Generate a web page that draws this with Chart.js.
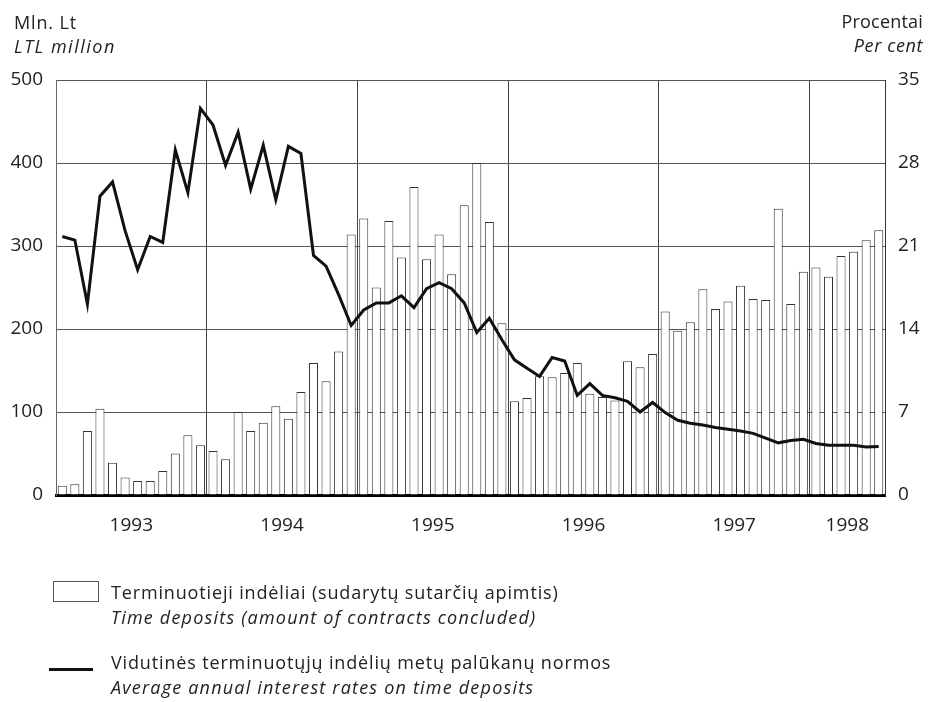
<!DOCTYPE html>
<html>
<head>
<meta charset="utf-8">
<script src="https://cdn.jsdelivr.net/npm/chart.js@4.4.1/dist/chart.umd.min.js"></script>
<style>
  body { margin: 0; background: #fff; font-family: 'Open Sans', sans-serif; color: #222; }
  #wrap { position: relative; width: 928px; height: 702px; }
  canvas { position: absolute; left: 0; top: 0; }
  .txt { position: absolute; white-space: nowrap; letter-spacing: 0.85px; }
  .it { font-style: italic; letter-spacing: 1.2px; }
</style>
</head>
<body>
<div id="wrap">
  <canvas id="myChart" width="928" height="702"></canvas>

  <div class="txt" style="left:14px; top:11px; font-size:18px; line-height:23.5px;">
    Mln. Lt<br><span class="it" style="letter-spacing:1.5px;">LTL million</span>
  </div>
  <div class="txt" style="right:5px; top:10px; font-size:18px; line-height:23.5px; text-align:right; letter-spacing:0.2px;">
    Procentai<br><span class="it" style="letter-spacing:0.6px;">Per cent</span>
  </div>

  <div style="position:absolute; left:53px; top:581px; width:44px; height:19px; border:1px solid #555;"></div>
  <div class="txt" style="left:111px; top:580px; font-size:18px; line-height:24.5px;">
    Terminuotieji indėliai (sudarytų sutarčių apimtis)<br><span class="it">Time deposits (amount of contracts concluded)</span>
  </div>

  <div style="position:absolute; left:49px; top:668px; width:44px; height:3px; background:#111;"></div>
  <div class="txt" style="left:111px; top:650px; font-size:18px; line-height:24.5px;">
    Vidutinės terminuotųjų indėlių metų palūkanų normos<br><span class="it">Average annual interest rates on time deposits</span>
  </div>
</div>

<script>
// monthly, Jan 1993 - Jun 1998
const years = ['1993', '1994', '1995', '1996', '1997', '1998'];
const monthsInYear = [12, 12, 12, 12, 12, 6];

// Time deposits, LTL million
const deposits = [
  11, 13, 77, 104, 39, 21, 17, 17, 29, 50, 72, 60,
  53, 43, 100, 77, 87, 107, 92, 124, 159, 137, 173, 314,
  333, 250, 330, 286, 371, 284, 314, 266, 349, 400, 329, 207,
  113, 117, 143, 142, 147, 159, 122, 118, 114, 161, 154, 170,
  221, 198, 208, 248, 224, 233, 252, 236, 235, 345, 230, 269,
  274, 263, 288, 293, 307, 319
];

// Average annual interest rate, per cent
const rates = [
  21.8, 21.5, 16.1, 25.2, 26.4, 22.3, 19.0, 21.8, 21.3, 29.1, 25.5, 32.6,
  31.2, 27.8, 30.6, 25.8, 29.5, 24.9, 29.4, 28.8, 20.2, 19.3, 16.9, 14.3,
  15.6, 16.2, 16.2, 16.8, 15.8, 17.4, 17.9, 17.4, 16.2, 13.7, 14.9, 13.1,
  11.4, 10.7, 10.0, 11.6, 11.3, 8.4, 9.4, 8.4, 8.2, 7.9, 7.0, 7.8,
  6.95, 6.3, 6.05, 5.9, 5.7, 5.55, 5.4, 5.2, 4.8, 4.4, 4.6, 4.7,
  4.35, 4.2, 4.2, 4.2, 4.05, 4.1
];

const leftTicks = [0, 100, 200, 300, 400, 500];
const rightTicks = [0, 7, 14, 21, 28, 35];

// category labels + where the year label goes (middle of each year)
const labels = [];
const yearAt = {};
years.forEach((yr, k) => {
  const start = labels.length;
  for (let m = 1; m <= monthsInYear[k]; m++) labels.push(yr + '-' + m);
  yearAt[start + monthsInYear[k] / 2] = yr;
});

const tickFont = { size: 19, family: 'Open Sans' };

const ctx = document.getElementById('myChart').getContext('2d');
const myChart = new Chart(ctx, {
  data: {
    labels: labels,
    datasets: [{
      type: 'line',
      label: 'Rates',
      data: rates,
      yAxisID: 'y1',
      borderColor: '#111',
      borderWidth: 3,
      pointRadius: 0,
      tension: 0,
      fill: false,
      order: 1
    },
    {
      type: 'bar',
      label: 'Deposits',
      data: deposits,
      yAxisID: 'y',
      backgroundColor: '#fff',
      borderColor: '#333',
      borderWidth: 1,
      categoryPercentage: 1,
      barPercentage: 0.72,
      order: 2
    }]
  },
  options: {
    responsive: false,
    animation: false,
    layout: { padding: { top: 80, left: 0, right: 0, bottom: 0 } },
    plugins: {
      legend: { display: false },
      tooltip: { enabled: false }
    },
    scales: {
      x: {
        z: 1,
        offset: true,
        afterFit: s => { s.height = 207; },
        grid: {
          offset: true,
          drawTicks: false,
          color: c => (c.index > 0 && c.index % 12 === 0) ? '#444' : 'rgba(0,0,0,0)',
          lineWidth: 1
        },
        border: { color: '#000', width: 3 },
        ticks: {
          autoSkip: false,
          maxRotation: 0,
          minRotation: 0,
          padding: 19,
          labelOffset: -6.3,
          color: '#222',
          font: tickFont,
          callback: (v, i) => yearAt[i] || ''
        }
      },
      y: {
        position: 'left',
        min: 0,
        max: 500,
        afterFit: s => { s.width = 56; },
        afterBuildTicks: s => { s.ticks = leftTicks.map(v => ({ value: v })); },
        grid: { color: '#555', lineWidth: 1, drawTicks: false },
        border: { color: '#666', width: 1 },
        ticks: {
          padding: 13,
          color: '#222',
          font: tickFont
        }
      },
      y1: {
        position: 'right',
        min: 0,
        max: 35,
        afterFit: s => { s.width = 43; },
        afterBuildTicks: s => { s.ticks = rightTicks.map(v => ({ value: v })); },
        grid: { drawOnChartArea: false, drawTicks: false },
        border: { color: '#333', width: 1 },
        ticks: {
          padding: 13,
          color: '#222',
          font: tickFont
        }
      }
    }
  }
});
</script>
</body>
</html>
